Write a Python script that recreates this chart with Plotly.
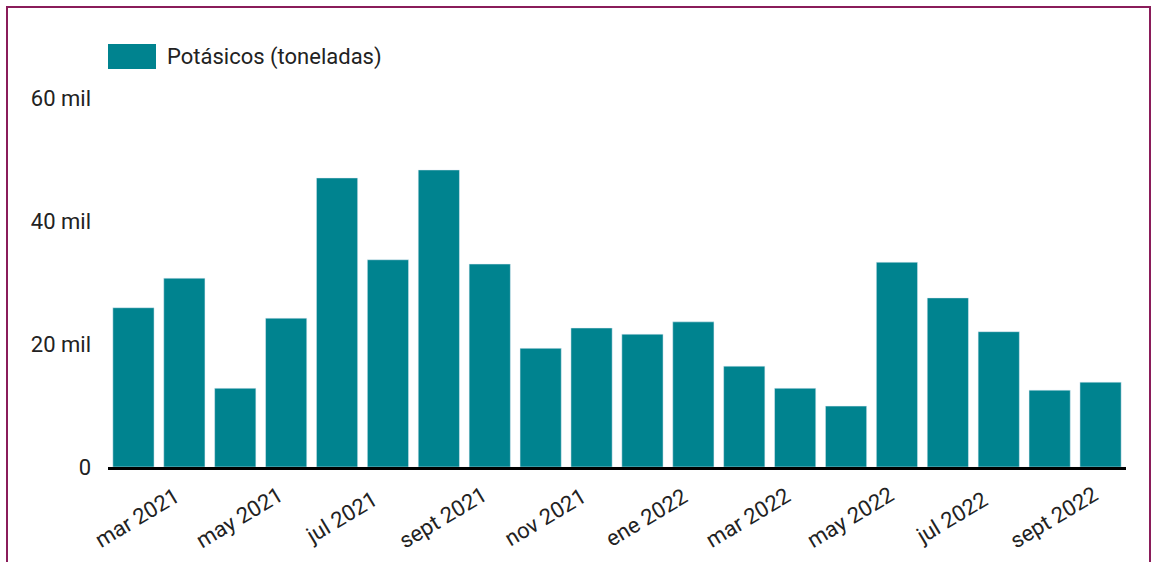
import plotly.graph_objects as go

MONTHS = [
    "mar 2021", "abr 2021", "may 2021", "jun 2021", "jul 2021", "ago 2021",
    "sept 2021", "oct 2021", "nov 2021", "dic 2021", "ene 2022", "feb 2022",
    "mar 2022", "abr 2022", "may 2022", "jun 2022", "jul 2022", "ago 2022",
    "sept 2022", "oct 2022",
]
POTASICOS = [
    25900, 30700, 12800, 24200, 47000, 33700, 48300, 33000, 19300, 22600,
    21600, 23600, 16400, 12800, 9900, 33300, 27500, 22000, 12500, 13800,
]
LABELED = MONTHS[::2]
Y_TICKS = [0, 20000, 40000, 60000]
Y_TEXT = ["0", "20 mil", "40 mil", "60 mil"]

TEAL = "#00838f"
MAROON = "#8a1c5a"
FONT = "Roboto"
FSIZE = 22

W, H = 1158, 562
L, R, T, B = 108, 32, 98, 95
PW, PH = W - L - R, H - T - B


def px(x):
    return (x - L) / PW


def py(y):
    return (H - B - y) / PH


fig = go.Figure()
fig.add_trace(
    go.Bar(
        x=MONTHS,
        y=POTASICOS,
        marker_color=TEAL,
        name="Potásicos (toneladas)",
        showlegend=False,
    )
)

# rotated month labels, centred on their bars
for m in LABELED:
    fig.add_annotation(
        x=m, xref="x", y=0, yref="paper", yshift=-50, xshift=4,
        text=m, textangle=-31, showarrow=False,
        xanchor="center", yanchor="middle",
        font={"family": FONT, "size": FSIZE, "color": "#222"},
    )

# legend swatch + text
fig.add_shape(
    type="rect", xref="paper", yref="paper",
    x0=px(108), x1=px(156), y0=py(69), y1=py(44),
    fillcolor=TEAL, line={"width": 0},
)
fig.add_annotation(
    x=px(165), y=py(57), xref="paper", yref="paper",
    text="Potásicos (toneladas)", showarrow=False,
    xanchor="left", yanchor="middle",
    font={"family": FONT, "size": FSIZE, "color": "#222"},
)

# frame (open at the bottom)
fig.add_shape(
    type="path", xref="paper", yref="paper",
    path=f"M {px(7)},{py(575)} L {px(7)},{py(7)} L {px(1150)},{py(7)} L {px(1150)},{py(575)}",
    line={"color": MAROON, "width": 2},
)

fig.update_layout(
    width=W, height=H,
    margin={"l": L, "r": R, "t": T, "b": B},
    paper_bgcolor="white", plot_bgcolor="white",
    bargap=0.19,
    font={"family": FONT, "size": FSIZE, "color": "#222"},
    xaxis={
        "showticklabels": False, "showgrid": False, "ticks": "",
        "showline": True, "linecolor": "black", "linewidth": 3,
        "range": [-0.5, len(MONTHS) - 0.5],
    },
    yaxis={
        "range": [0, 60000], "tickvals": Y_TICKS, "ticktext": Y_TEXT,
        "showgrid": False, "zeroline": False, "ticks": "",
        "ticklabelstandoff": 16,
    },
)

fig.write_html(
    "out.html",
    config={"displayModeBar": False},
    post_script="document.body.style.margin='0';",
)
